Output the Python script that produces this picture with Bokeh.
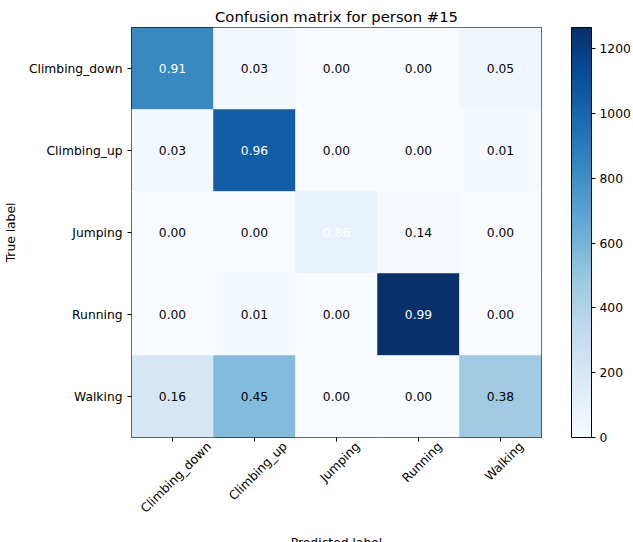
import math
from bokeh.plotting import figure
from bokeh.models import (ColumnDataSource, LinearColorMapper, ColorBar, FixedTicker,
                          LinearAxis, Range1d)
from bokeh.palettes import Blues256
from bokeh.core.properties import value
from bokeh.embed import file_html
from bokeh.resources import INLINE

classes = ["Climbing_down", "Climbing_up", "Jumping", "Running", "Walking"]

# raw counts per true-label row (colour), estimated from colour scale
counts_climbing_down = [840, 32, 0, 0, 50]
counts_climbing_up = [33, 1045, 2, 1, 12]
counts_jumping = [0, 0, 90, 15, 0]
counts_running = [2, 12, 1, 1265, 3]
counts_walking = [210, 560, 2, 1, 470]

# normalized values printed in cells
norm_climbing_down = [0.91, 0.03, 0.00, 0.00, 0.05]
norm_climbing_up = [0.03, 0.96, 0.00, 0.00, 0.01]
norm_jumping = [0.00, 0.00, 0.86, 0.14, 0.00]
norm_running = [0.00, 0.01, 0.00, 0.99, 0.00]
norm_walking = [0.16, 0.45, 0.00, 0.00, 0.38]

colorbar_ticks = [0, 200, 400, 600, 800, 1000, 1200]

counts = [counts_climbing_down, counts_climbing_up, counts_jumping, counts_running, counts_walking]
norms = [norm_climbing_down, norm_climbing_up, norm_jumping, norm_running, norm_walking]

n = len(classes)
xs, ys, cs, ts, tcol = [], [], [], [], []
for i, true_lab in enumerate(classes):
    for j, pred_lab in enumerate(classes):
        xs.append(j + 0.5)          # predicted-label column index (numeric x scale)
        ys.append(true_lab)
        cs.append(counts[i][j])
        ts.append("%.2f" % norms[i][j])
        tcol.append("white" if norms[i][j] > 0.5 else "black")

vmax = max(max(r) for r in counts)
palette = list(reversed(Blues256))
mapper = LinearColorMapper(palette=palette, low=0, high=vmax)
fill = [palette[min(255, int(c / vmax * 255.999))] for c in cs]

src = ColumnDataSource(dict(x=xs, y=ys, c=cs, t=ts, tc=tcol, f=fill))

FS_PX = 12.3
FS = "%.1fpx" % FS_PX
FRAME = 410
p = figure(x_range=Range1d(0, n), y_range=list(reversed(classes)),
           frame_width=FRAME, frame_height=FRAME, output_backend="svg", toolbar_location=None,
           title="Confusion matrix for person #15",
           min_border_left=126, min_border_right=10, min_border_top=27,
           min_border_bottom=4)
p.rect(x="x", y="y", width=1, height=1, source=src, fill_color="f", line_color="f", line_width=0.5)
p.text(x="x", y="y", text="t", source=src, text_color="tc", text_align="center",
       text_baseline="middle", text_font_size=FS, text_font=value("DejaVu Sans"))

p.title.align = "center"
p.title.text_font = "DejaVu Sans"
p.title.text_font_size = "14.8px"
p.title.text_font_style = "normal"
p.title.text_color = "black"
p.title.standoff = 6

p.grid.visible = False
p.outline_line_color = "black"
p.outline_line_width = 1
for ax in (p.xaxis[0], p.yaxis[0]):
    ax.axis_line_color = None
    ax.major_tick_line_color = "black"
    ax.major_tick_in = 0
    ax.major_tick_out = 4
    ax.minor_tick_line_color = None
    ax.major_label_text_font = "DejaVu Sans"
    ax.major_label_text_font_size = FS
    ax.major_label_text_color = "black"
    ax.axis_label_text_font = "DejaVu Sans"
    ax.axis_label_text_font_size = FS
    ax.axis_label_text_font_style = "normal"
    ax.axis_label_text_color = "black"
p.yaxis.axis_label = "True label"
p.yaxis.axis_label_standoff = 8
p.y_range.range_padding = 0

# main x axis: tick marks only, at the column centres
tick_pos = [j + 0.5 for j in range(n)]
p.xaxis.ticker = FixedTicker(ticks=tick_pos)
p.xaxis.major_label_overrides = {t: "" for t in tick_pos}
p.xaxis.major_label_text_font_size = "0px"
p.xaxis.major_label_standoff = 0

# second x axis carrying the rotated labels, each centred under its tick
_adv = {"C": .698, "l": .278, "i": .278, "m": .974, "b": .635, "n": .634, "g": .635,
        "_": .5, "d": .635, "o": .612, "w": .818, "u": .634, "p": .635, "J": .295,
        "R": .695, "W": .989, "a": .613, "k": .579}
px_per_unit = FRAME / n
lab_ticks, overrides = [], {}
for j, lab in enumerate(classes):
    w = sum(_adv.get(ch, .6) for ch in lab) * FS_PX
    shift = (w + 10) * math.sqrt(0.5) / 2 / px_per_unit
    t = round(j + 0.5 + shift, 3)
    lab_ticks.append(t)
    overrides[t] = lab
lab_axis = LinearAxis(ticker=FixedTicker(ticks=lab_ticks),
                      major_label_overrides=overrides, axis_line_color=None,
                      major_tick_line_color=None, minor_tick_line_color=None,
                      major_tick_in=0, major_tick_out=0, major_label_standoff=3,
                      major_label_orientation=math.pi / 4,
                      major_label_text_font="DejaVu Sans", major_label_text_font_size=FS,
                      major_label_text_color="black",
                      axis_label="Predicted label", axis_label_standoff=12,
                      axis_label_text_font="DejaVu Sans", axis_label_text_font_size=FS,
                      axis_label_text_font_style="normal", axis_label_text_color="black")
p.add_layout(lab_axis, "below")

cb = ColorBar(color_mapper=mapper, width=20, height=FRAME, location=(30, 0),
              ticker=FixedTicker(ticks=colorbar_ticks), padding=0, margin=0,
              bar_line_color="black", border_line_color=None, background_fill_alpha=0,
              major_tick_in=0, major_tick_out=4, major_tick_line_color="black",
              major_label_text_font="DejaVu Sans", major_label_text_font_size=FS,
              major_label_text_color="black", label_standoff=4)
p.add_layout(cb, "right")

open("out.html", "w").write(file_html(p, INLINE))
